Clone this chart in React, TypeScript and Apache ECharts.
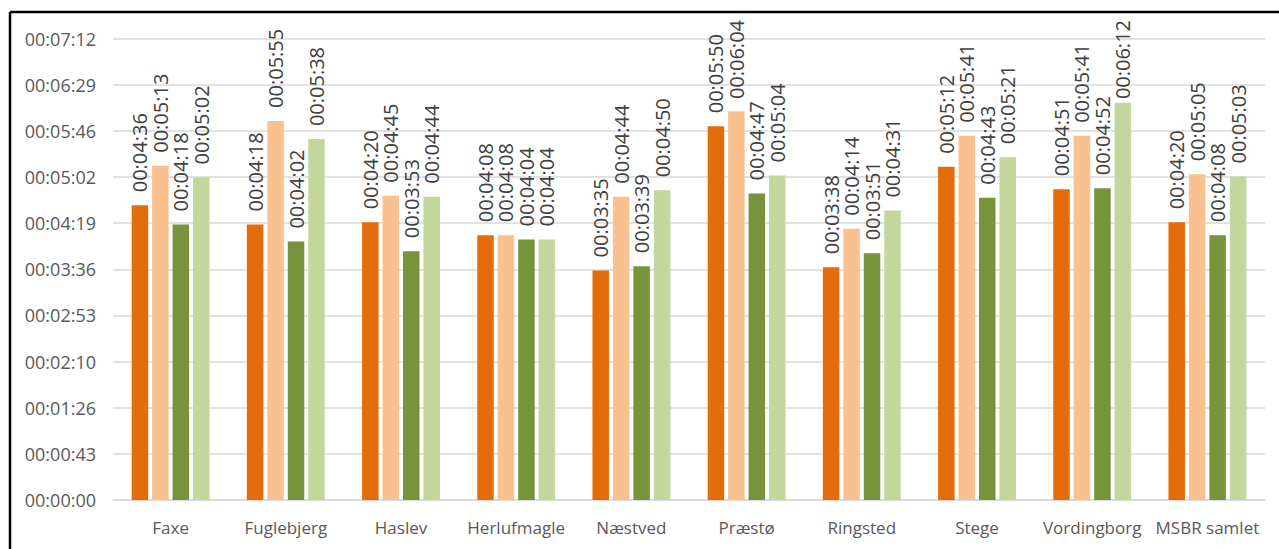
import React, { useEffect, useRef } from "react";
import * as echarts from "echarts";

const categories = [
  "Faxe",
  "Fuglebjerg",
  "Haslev",
  "Herlufmagle",
  "Næstved",
  "Præstø",
  "Ringsted",
  "Stege",
  "Vordingborg",
  "MSBR samlet",
];

const series1 = ["00:04:36", "00:04:18", "00:04:20", "00:04:08", "00:03:35", "00:05:50", "00:03:38", "00:05:12", "00:04:51", "00:04:20"];
const series2 = ["00:05:13", "00:05:55", "00:04:45", "00:04:08", "00:04:44", "00:06:04", "00:04:14", "00:05:41", "00:05:41", "00:05:05"];
const series3 = ["00:04:18", "00:04:02", "00:03:53", "00:04:04", "00:03:39", "00:04:47", "00:03:51", "00:04:43", "00:04:52", "00:04:08"];
const series4 = ["00:05:02", "00:05:38", "00:04:44", "00:04:04", "00:04:50", "00:05:04", "00:04:31", "00:05:21", "00:06:12", "00:05:03"];

const seriesNames = ["Serie 1", "Serie 2", "Serie 3", "Serie 4"];
const seriesColors = ["#E46C0A", "#FAC090", "#77933C", "#C3D69B"];

// axis: 0 .. 0.005 day (432 s), step 0.0005 day (43.2 s)
const yMax = 432;
const yInterval = 43.2;

const toSeconds = (s: string) => {
  const [h, m, sec] = s.split(":").map(Number);
  return h * 3600 + m * 60 + sec;
};
const pad = (n: number) => String(n).padStart(2, "0");
const fmt = (v: number) => {
  const t = Math.round(v);
  const h = Math.floor(t / 3600);
  const m = Math.floor((t % 3600) / 60);
  const s = t % 60;
  return `${pad(h)}:${pad(m)}:${pad(s)}`;
};

const FONT = "'Open Sans', 'Liberation Sans', sans-serif";
const LABEL_SIZE = 20;
const LABEL_DIST = 13;
const LABEL_TOP_LIMIT = 20;

export default function App() {
  const ref = useRef<HTMLDivElement>(null);
  useEffect(() => {
    if (!ref.current) return;
    const chart = echarts.init(ref.current, undefined, { renderer: "svg" });
    const all = [series1, series2, series3, series4].map((d) => d.map(toSeconds));
    chart.setOption({
      animation: false,
      backgroundColor: "#ffffff",
      grid: { left: 113, right: 14, top: 38.7, bottom: 49, containLabel: false },
      xAxis: {
        type: "category",
        data: categories,
        axisTick: { show: false },
        axisLine: { lineStyle: { color: "#D9D9D9", width: 1.5 } },
        axisLabel: { color: "#595959", fontSize: 17, fontFamily: FONT, margin: 19, interval: 0 },
      },
      yAxis: {
        type: "value",
        min: 0,
        max: yMax,
        interval: yInterval,
        axisLine: { show: false },
        axisTick: { show: false },
        splitLine: { lineStyle: { color: "#D9D9D9", width: 1.5 } },
        axisLabel: {
          color: "#595959",
          fontSize: 18,
          fontFamily: FONT,
          margin: 17,
          formatter: (v: number) => fmt(v),
        },
      },
      graphic: [
        { type: "line", shape: { x1: 10, y1: 12, x2: 1279, y2: 12 }, style: { stroke: "#000", lineWidth: 2.5 } },
        { type: "line", shape: { x1: 10, y1: 12, x2: 10, y2: 549 }, style: { stroke: "#000", lineWidth: 2.5 } },
      ],
      series: all.map((d, i) => ({
        name: seriesNames[i],
        type: "bar",
        data: d,
        barWidth: 16.5,
        barGap: "24%",
        itemStyle: { color: seriesColors[i] },
        label: {
          show: true,
          position: "top",
          rotate: 90,
          align: "left",
          verticalAlign: "middle",
          distance: LABEL_DIST,
          color: "#404040",
          fontSize: LABEL_SIZE,
          fontFamily: FONT,
          formatter: (p: any) => fmt(p.value),
        },
      })),
    });

    // keep labels inside the chart area (like the original): shorten the gap when needed
    const ctx = document.createElement("canvas").getContext("2d");
    if (ctx) {
      ctx.font = `${LABEL_SIZE}px ${FONT}`;
      chart.setOption({
        series: all.map((d) => ({
          data: d.map((v, j) => {
            const pt = chart.convertToPixel({ gridIndex: 0 }, [categories[j], v]) as number[];
            const top = pt[1];
            const w = ctx.measureText(fmt(v)).width;
            if (top - LABEL_DIST - w < LABEL_TOP_LIMIT) {
              return { value: v, label: { distance: Math.max(2, top - w - LABEL_TOP_LIMIT) } };
            }
            return v;
          }),
        })),
      });
    }
    return () => chart.dispose();
  }, []);
  return (
    <div
      ref={ref}
      style={{ position: "absolute", left: 0, top: 0, width: 1279, height: 549 }}
    />
  );
}
